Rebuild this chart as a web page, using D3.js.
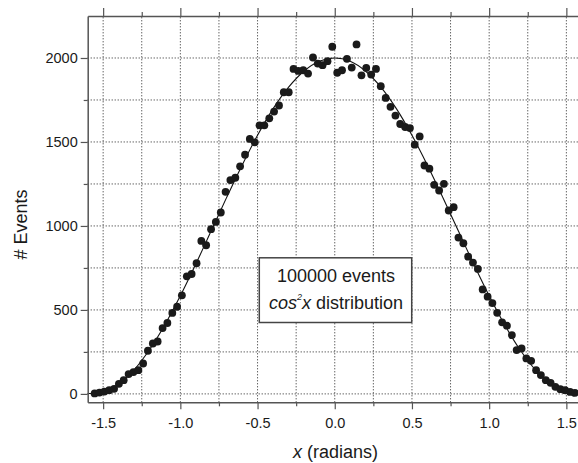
<!DOCTYPE html>
<html>
<head>
<meta charset="utf-8">
<script src="https://cdn.jsdelivr.net/npm/d3@7"></script>
<style>
  body { margin: 0; background: #fff; }
  text { font-family: "Liberation Sans", Arial, Helvetica, sans-serif; fill: #1a1a1a; }
  .axis path, .axis line { stroke: #555; }
  .axis path { stroke-width: 1.5px; }
  .axis line { stroke-width: 1.2px; }
  .axis text { font-size: 14.5px; }
</style>
</head>
<body>
<div class="chart"></div>
<script>
// bin centres (radians) and counts per bin
const binX = [
  -1.555, -1.524, -1.492, -1.461, -1.429, -1.398, -1.367, -1.335, -1.304, -1.272,
  -1.241, -1.210, -1.178, -1.147, -1.115, -1.084, -1.052, -1.021, -0.990, -0.958,
  -0.927, -0.895, -0.864, -0.833, -0.801, -0.770, -0.738, -0.707, -0.676, -0.644,
  -0.613, -0.581, -0.550, -0.518, -0.487, -0.456, -0.424, -0.393, -0.361, -0.330,
  -0.298, -0.267, -0.236, -0.204, -0.173, -0.141, -0.110, -0.079, -0.047, -0.016,
  0.016, 0.047, 0.079, 0.110, 0.141, 0.173, 0.204, 0.236, 0.267, 0.298,
  0.330, 0.361, 0.393, 0.424, 0.456, 0.487, 0.518, 0.550, 0.581, 0.613,
  0.644, 0.676, 0.707, 0.738, 0.770, 0.801, 0.833, 0.864, 0.895, 0.927,
  0.958, 0.990, 1.021, 1.052, 1.084, 1.115, 1.147, 1.178, 1.210, 1.241,
  1.272, 1.304, 1.335, 1.367, 1.398, 1.429, 1.461, 1.492, 1.524, 1.555
];
const counts = [
  3, 8, 14, 22, 30, 60, 82, 118, 130, 141,
  181, 257, 300, 312, 392, 422, 482, 519, 587, 700,
  714, 778, 911, 885, 981, 1024, 1080, 1203, 1273, 1287,
  1355, 1424, 1518, 1498, 1599, 1599, 1641, 1681, 1717, 1796,
  1796, 1935, 1923, 1927, 1907, 2003, 1967, 1957, 1981, 2067,
  1912, 1927, 1995, 1943, 2081, 1897, 1941, 1901, 1935, 1832,
  1762, 1709, 1657, 1607, 1589, 1583, 1484, 1533, 1360, 1341,
  1245, 1211, 1251, 1092, 1112, 931, 897, 817, 782, 744,
  622, 579, 541, 483, 426, 406, 350, 261, 271, 211,
  197, 141, 112, 82, 66, 42, 28, 22, 12, 6
];

// expected curve, read at 0.1 rad steps
const curveX = [-1.6, -1.5, -1.4, -1.3, -1.2, -1.1, -1.0, -0.9, -0.8, -0.7, -0.6, -0.5, -0.4, -0.3, -0.2, -0.1,
  0, 0.1, 0.2, 0.3, 0.4, 0.5, 0.6, 0.7, 0.8, 0.9, 1.0, 1.1, 1.2, 1.3, 1.4, 1.5, 1.6];
const curveY = [2, 10, 58, 143, 263, 412, 584, 773, 971, 1170, 1362, 1540, 1697, 1825, 1921, 1980,
  2000, 1980, 1921, 1825, 1697, 1540, 1362, 1170, 971, 773, 584, 412, 263, 143, 58, 10, 2];

const xMajor = [-1.5, -1.0, -0.5, 0, 0.5, 1.0, 1.5];
const xMinor = [-1.25, -0.75, -0.25, 0.25, 0.75, 1.25];
const yMajor = [0, 500, 1000, 1500, 2000];
const yMinor = [250, 750, 1250, 1750];
const boxLine1 = "100000 events";

const W = 578, H = 463;
const svg = d3.select(".chart").append("svg")
    .attr("width", W)
    .attr("height", H);

const xScale = d3.scaleLinear().domain([-1.6, 1.6]).range([87.7, 581.8]);
const yScale = d3.scaleLinear().domain([-50, 2250]).range([402.3, 16]);

// dotted grid
const grid = svg.append("g").attr("stroke", "#222").attr("stroke-width", 1).attr("stroke-dasharray", "1,2");
grid.selectAll(".gx")
    .data(xMajor.concat(xMinor))
    .enter().append("line")
    .attr("x1", d => xScale(d)).attr("x2", d => xScale(d))
    .attr("y1", yScale.range()[0]).attr("y2", yScale.range()[1]);
grid.selectAll(".gy")
    .data(yMajor.concat(yMinor))
    .enter().append("line")
    .attr("x1", xScale.range()[0]).attr("x2", xScale.range()[1])
    .attr("y1", d => yScale(d)).attr("y2", d => yScale(d));

// fitted curve
const line = d3.line()
    .x((d, i) => xScale(curveX[i]))
    .y(d => yScale(d))
    .curve(d3.curveCatmullRom);
svg.append("path")
    .datum(curveY)
    .attr("d", line)
    .attr("fill", "none")
    .attr("stroke", "#111")
    .attr("stroke-width", 1.1);

// points
svg.selectAll(".dot")
    .data(counts)
    .enter().append("circle")
    .attr("class", "dot")
    .attr("cx", (d, i) => xScale(binX[i]))
    .attr("cy", d => yScale(d))
    .attr("r", 3.9)
    .attr("fill", "#1a1a1a");

// axes
const yBottom = yScale.range()[0], yTop = yScale.range()[1];
svg.append("g").attr("class", "axis")
    .attr("transform", `translate(0,${yBottom})`)
    .call(d3.axisBottom(xScale).tickValues(xMajor).tickSize(7).tickPadding(8.5)
        .tickFormat(d => d.toFixed(1)).tickSizeOuter(0));
svg.append("g").attr("class", "axis")
    .attr("transform", `translate(0,${yBottom})`)
    .call(d3.axisBottom(xScale).tickValues(xMinor).tickSize(4).tickFormat("").tickSizeOuter(0))
    .select("path").remove();
svg.append("g").attr("class", "axis")
    .attr("transform", `translate(0,${yTop})`)
    .call(d3.axisTop(xScale).tickValues(xMajor).tickSize(8).tickFormat("").tickSizeOuter(0));
svg.append("g").attr("class", "axis")
    .attr("transform", `translate(0,${yTop})`)
    .call(d3.axisTop(xScale).tickValues(xMinor).tickSize(4).tickFormat("").tickSizeOuter(0))
    .select("path").remove();

svg.append("g").attr("class", "axis")
    .attr("transform", `translate(${xScale.range()[0]},0)`)
    .call(d3.axisLeft(yScale).tickValues(yMajor).tickSize(7).tickPadding(3)
        .tickFormat(d => String(d)).tickSizeOuter(0));
svg.append("g").attr("class", "axis")
    .attr("transform", `translate(${xScale.range()[0]},0)`)
    .call(d3.axisLeft(yScale).tickValues(yMinor).tickSize(4).tickFormat("").tickSizeOuter(0))
    .select("path").remove();

// axis titles
const xt = svg.append("text")
    .attr("x", 335.5).attr("y", 457.5)
    .attr("text-anchor", "middle")
    .attr("font-size", "18px");
xt.append("tspan").attr("font-style", "italic").text("x");
xt.append("tspan").text(" (radians)");

svg.append("text")
    .attr("transform", "translate(27.3,224.5) rotate(-90)")
    .attr("text-anchor", "middle")
    .attr("font-size", "18px")
    .text("# Events");

// annotation box
svg.append("rect")
    .attr("x", 259.3).attr("y", 257.8)
    .attr("width", 152.4).attr("height", 64.7)
    .attr("fill", "#fff")
    .attr("stroke", "#444")
    .attr("stroke-width", 1.5);
svg.append("text")
    .attr("x", 336).attr("y", 281.7)
    .attr("text-anchor", "middle")
    .attr("font-size", "18px")
    .text(boxLine1);
const t2 = svg.append("text")
    .attr("x", 336).attr("y", 309.3)
    .attr("text-anchor", "middle")
    .attr("font-size", "18px");
t2.append("tspan").attr("font-style", "italic").text("cos");
t2.append("tspan").attr("font-style", "italic").attr("font-size", "9px").attr("dy", -9).text("2");
t2.append("tspan").attr("font-style", "italic").attr("dy", 9).text("x");
t2.append("tspan").text(" distribution");
</script>
</body>
</html>
